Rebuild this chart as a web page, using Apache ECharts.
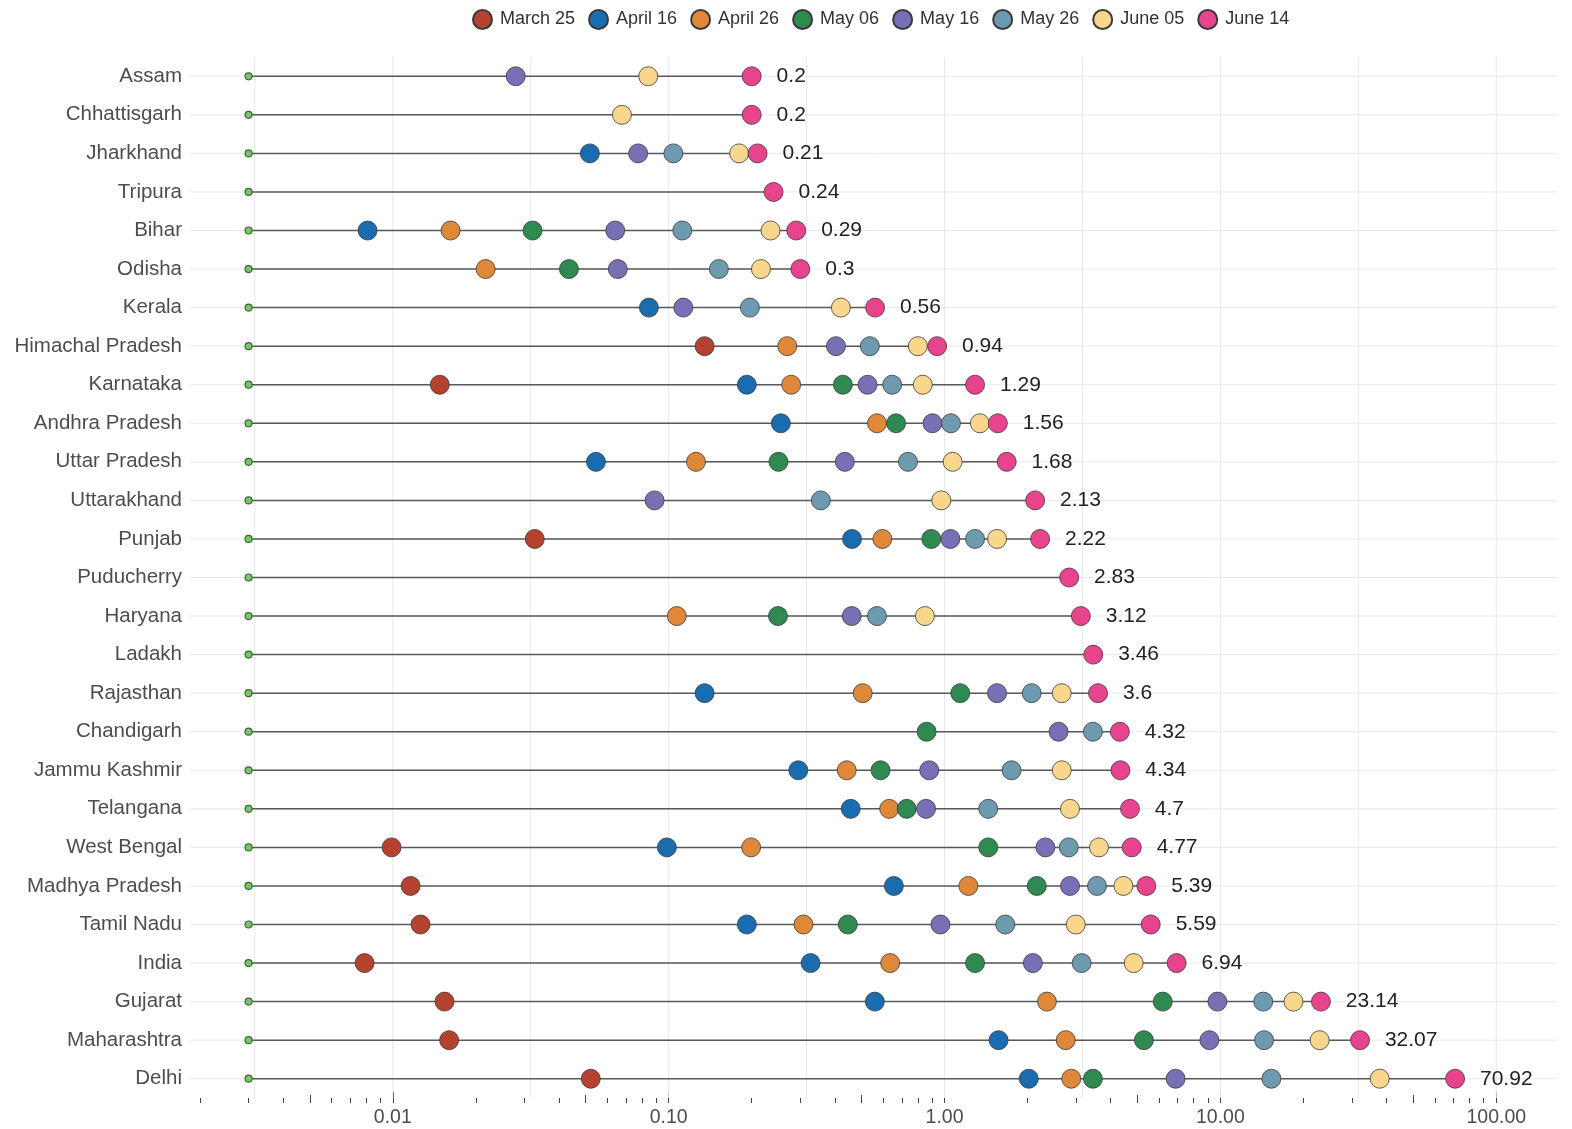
<!DOCTYPE html>
<html><head><meta charset="utf-8">
<script src="https://cdn.jsdelivr.net/npm/echarts@6/dist/echarts.min.js"></script>
<style>html,body{margin:0;padding:0;background:#fff}#c{width:1572px;height:1129px}</style>
</head><body><div id="c"></div>
<script>
const states = ['Assam','Chhattisgarh','Jharkhand','Tripura','Bihar','Odisha','Kerala','Himachal Pradesh','Karnataka','Andhra Pradesh','Uttar Pradesh','Uttarakhand','Punjab','Puducherry','Haryana','Ladakh','Rajasthan','Chandigarh','Jammu Kashmir','Telangana','West Bengal','Madhya Pradesh','Tamil Nadu','India','Gujarat','Maharashtra','Delhi'];
const dates = ['March 25','April 16','April 26','May 06','May 16','May 26','June 05','June 14'];
const march25 = [null,null,null,null,null,null,null,0.135,0.0148,null,null,null,0.0327,null,null,null,null,null,null,null,0.0099,0.0116,0.0126,0.0079,0.0154,0.0160,0.0522];
const april16 = [null,null,0.0518,null,0.0081,null,0.0848,null,0.192,0.255,0.0545,null,0.462,null,null,null,0.135,null,0.295,0.457,0.0985,0.655,0.192,0.327,0.559,1.57,2.02];
const april26 = [null,null,null,null,0.0162,0.0217,null,0.269,0.278,0.569,0.1256,null,0.595,null,0.107,null,0.505,null,0.442,0.630,0.199,1.22,0.308,0.635,2.35,2.75,2.88];
const may06 = [null,null,null,null,0.0321,0.0435,null,null,0.428,0.667,0.250,null,0.895,null,0.249,null,1.14,0.861,0.586,0.729,1.44,2.16,0.446,1.29,6.18,5.28,3.45];
const may16 = [0.0279,null,0.0775,null,0.064,0.0654,0.113,0.404,0.526,0.904,0.435,0.0889,1.05,null,0.461,null,1.55,2.59,0.880,0.857,2.32,2.85,0.966,2.09,9.75,9.12,6.88];
const may26 = [null,null,0.104,null,0.112,0.152,0.197,0.536,0.646,1.055,0.737,0.356,1.29,null,0.569,null,2.07,3.45,1.75,1.44,2.82,3.57,1.66,3.14,14.3,14.4,15.3];
const june05 = [0.0843,0.0677,0.180,null,0.234,0.216,0.421,0.80,0.834,1.343,1.07,0.973,1.55,null,0.849,null,2.66,null,2.66,2.85,3.63,4.45,2.99,4.85,18.4,22.9,37.8];
const june14 = [0.2,0.2,0.21,0.24,0.29,0.3,0.56,0.94,1.29,1.56,1.68,2.13,2.22,2.83,3.12,3.46,3.6,4.32,4.34,4.7,4.77,5.39,5.59,6.94,23.14,32.07,70.92];
const startVal = [0.003,0.003,0.003,0.003,0.003,0.003,0.003,0.003,0.003,0.003,0.003,0.003,0.003,0.003,0.003,0.003,0.003,0.003,0.003,0.003,0.003,0.003,0.003,0.003,0.003,0.003,0.003];
const majorTicks = [0.01,0.1,1,10,100];
const midTicks = [0.005,0.05,0.5,5,50];
const minorTicks = [0.002,0.003,0.004,0.006,0.007,0.008,0.009,0.02,0.03,0.04,0.06,0.07,0.08,0.09,0.2,0.3,0.4,0.6,0.7,0.8,0.9,2,3,4,6,7,8,9,20,30,40,60,70,80,90];
const gridVals = [0.00316,0.01,0.0316,0.1,0.316,1,3.16,10,31.6,100];

const seriesValues = [march25,april16,april26,may06,may16,may26,june05,june14];
const colors = ['#B5412F','#1A6CB0','#E0883A','#2F8A52','#7770B5','#6E9AAF','#F8D78C','#E8448E'];
const FONT = "'Liberation Sans',Arial,sans-serif";
const xMin = 0.00184, xMax = 166;

function mkX(ticks, len, labels) {
  return {
    type:'log', logBase:10, min:xMin, max:xMax, gridIndex:0, position:'bottom', offset:5,
    axisLine:{show:false}, splitLine:{show:false}, minorTick:{show:false}, minorSplitLine:{show:false},
    axisTick:{show:true, inside:true, length:len, lineStyle:{color:'#444', width:1}, customValues:ticks},
    axisLabel: labels ? {show:true, customValues:labels, formatter:v=>Number(v).toFixed(2), margin:5,
      fontSize:19.5, color:'#4d4d4d', fontFamily:FONT} : {show:false}
  };
}

const chart = echarts.init(document.getElementById('c'), null, {renderer:'canvas'});

const segData = states.map((s,i)=>[startVal[i], june14[i], s]);

const series = [];
series.push({
  type:'custom', name:'_lines', xAxisIndex:0, yAxisIndex:0, z:1, silent:true,
  data: segData,
  encode:{x:[0,1], y:2},
  renderItem:(params, api)=>{
    const cs = params.coordSys;
    const p0 = api.coord([api.value(0), api.value(2)]);
    const p1 = api.coord([api.value(1), api.value(2)]);
    const y = p0[1];
    const children = [
      {type:'line', z2:0, shape:{x1:cs.x, y1:y, x2:cs.x+cs.width, y2:y}, style:{stroke:'#e8e8e8', lineWidth:1}},
      {type:'line', z2:2, shape:{x1:p0[0], y1:y, x2:p1[0], y2:y}, style:{stroke:'#595959', lineWidth:1.5}}
    ];
    if (params.dataIndex === 0) {
      gridVals.forEach(v=>{
        const x = api.coord([v, api.value(2)])[0];
        children.push({type:'line', z2:-1, shape:{x1:x, y1:cs.y, x2:x, y2:cs.y+cs.height}, style:{stroke:'#e8e8e8', lineWidth:1}});
      });
    }
    return {type:'group', children};
  }
});
series.push({
  type:'scatter', name:'_start', xAxisIndex:0, yAxisIndex:0, z:2, silent:true,
  symbolSize:7,
  itemStyle:{color:'#7cc46a', borderColor:'#2f6e2f', borderWidth:1.2, opacity:1},
  data: states.map((s,i)=>[startVal[i], s])
});
dates.forEach((d,k)=>{
  const vals = seriesValues[k];
  const data = [];
  states.forEach((s,i)=>{ if (vals[i] != null) data.push([vals[i], s]); });
  const sr = {
    type:'scatter', name:d, xAxisIndex:0, yAxisIndex:0, z:3+k,
    symbol:'circle', symbolSize:19,
    itemStyle:{color:colors[k], borderColor:'#3a3a3a', borderWidth:0.8, opacity:1},
    emphasis:{disabled:true},
    data
  };
  if (k === 7) {
    sr.label = {show:true, position:'right', distance:15, formatter:p=>String(p.value[0]),
      fontSize:21, color:'#222', fontFamily:FONT};
  }
  series.push(sr);
});

chart.setOption({
  animation:false,
  backgroundColor:'#fff',
  legend:{
    data:dates, top:4, left:467, icon:'circle', itemWidth:19, itemHeight:19, itemGap:13,
    textStyle:{fontSize:18, color:'#333', fontFamily:FONT, padding:[0,0,0,3]}
  },
  grid:{left:190, right:15, top:57, bottom:31, containLabel:false, outerBoundsMode:'none'},
  xAxis:[mkX(majorTicks, 11, majorTicks), mkX(midTicks, 8, null), mkX(minorTicks, 5, null)],
  yAxis:{
    type:'category', data:states, inverse:true, boundaryGap:true,
    axisLine:{show:false}, axisTick:{show:false}, splitLine:{show:false},
    axisLabel:{fontSize:20.5, color:'#4d4d4d', fontFamily:FONT, margin:8}
  },
  series
});
</script></body></html>
